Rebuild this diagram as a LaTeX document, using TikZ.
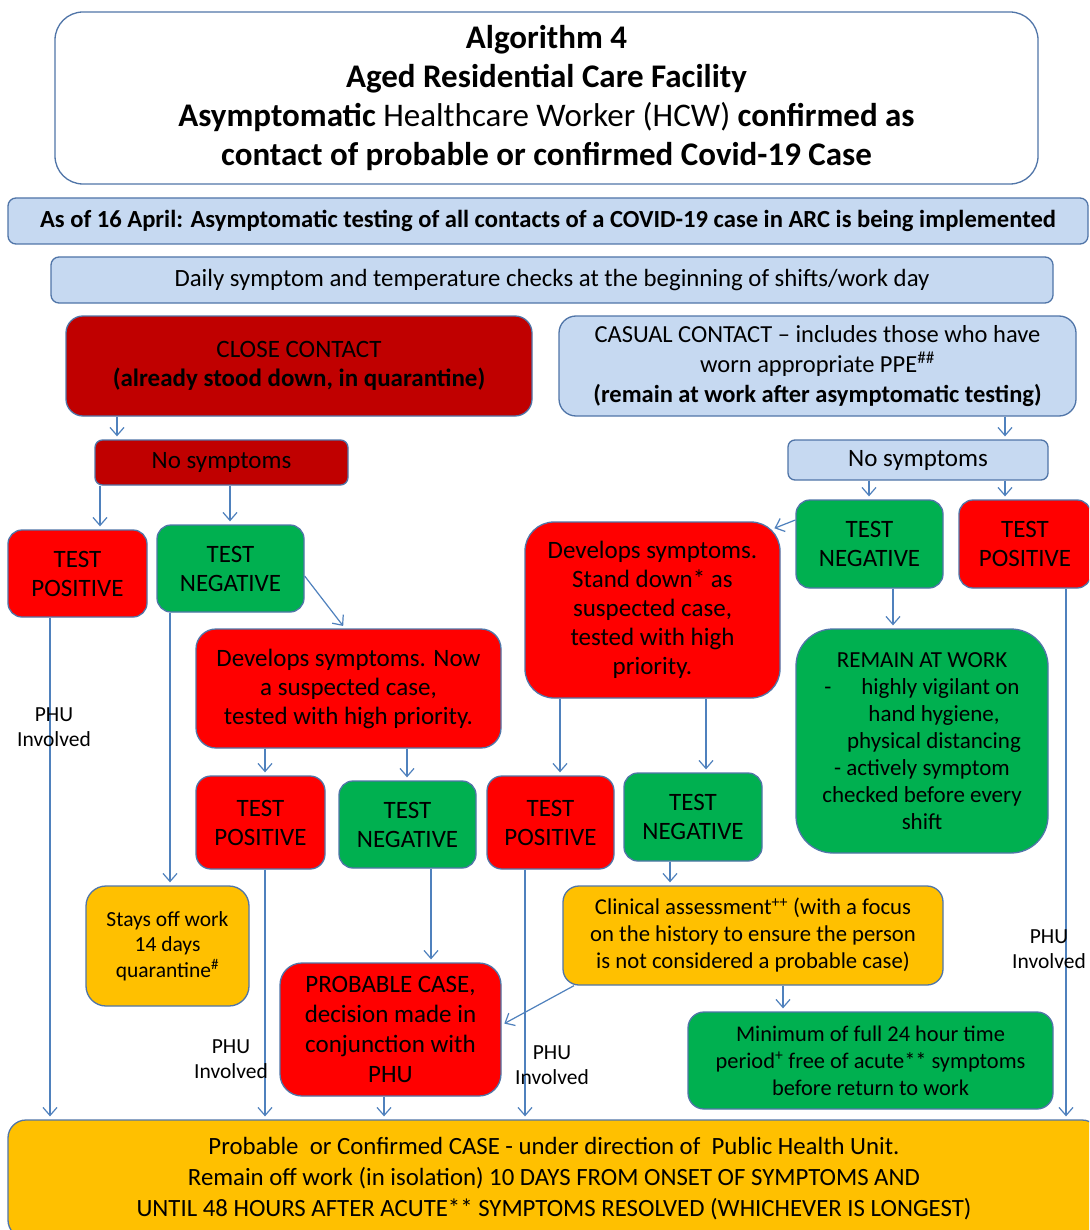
\documentclass[tikz,border=0pt]{standalone}
\usepackage{fontspec}
\setmainfont{Carlito}
\usetikzlibrary{arrows.meta,calc}
\definecolor{dred}{HTML}{C00000}
\definecolor{bred}{HTML}{FF0000}
\definecolor{bgreen}{HTML}{00B050}
\definecolor{amber}{HTML}{FFC000}
\definecolor{lblue}{HTML}{C6D9F1}
\definecolor{edgec}{HTML}{5075A8}
\definecolor{arrowc}{HTML}{4F81BD}
\begin{document}
\begin{tikzpicture}[x=1pt,y=-1pt,
  bx/.style={draw=edgec, line width=1.3pt, align=center, inner sep=2pt, text=black},
  body/.style={font=\fontsize{25}{29}\selectfont},
  arr/.style={draw=arrowc, line width=1.2pt, -{Straight Barb[length=8pt,width=14pt]}, shorten >=3pt},
  lab/.style={align=center, font=\fontsize{21.5}{25}\selectfont, inner sep=0pt}
]
\useasboundingbox (0,0) rectangle (1089,1230);
\clip (0,0) rectangle (1089,1230);
\fill[white] (0,0) rectangle (1089,1230);

% header
\node[bx, fill=white, minimum width=983pt, minimum height=172pt, rounded corners=28pt,
      font=\fontsize{33}{39}\selectfont] (title) at (546.5,98)
  {\textbf{Algorithm 4}\\ \textbf{Aged Residential Care Facility}\\
   \textbf{Asymptomatic} Healthcare Worker (HCW) \textbf{confirmed as}\\
   \textbf{contact of probable or confirmed Covid-19 Case}};
\node[bx, fill=lblue, minimum width=1080pt, minimum height=46pt, rounded corners=8pt,
      font=\bfseries\fontsize{24.6}{27}\selectfont] (asof) at (548,221)
  {As of 16 April: Asymptomatic testing of all contacts of a COVID-19 case in ARC is being implemented};
\node[bx, fill=lblue, minimum width=1002pt, minimum height=46pt, rounded corners=8pt,
      font=\fontsize{24.8}{27}\selectfont] (daily) at (552,280)
  {Daily symptom and temperature checks at the beginning of shifts/work day};

% contacts
\node[bx, body, fill=dred, minimum width=466pt, minimum height=100pt, rounded corners=17pt] (close) at (299,366)
  {CLOSE CONTACT\\ \textbf{(already stood down, in quarantine)}};
\node[bx, fill=lblue, minimum width=517pt, minimum height=100pt, rounded corners=17pt,
      font=\fontsize{24.5}{30}\selectfont] (casual) at (817.5,366)
  {CASUAL CONTACT – includes those who have\\ worn appropriate PPE\textsuperscript{\#\#}\\
   \textbf{(remain at work after asymptomatic testing)}};
\node[bx, body, fill=dred, minimum width=253pt, minimum height=45pt, rounded corners=7.5pt] (nsl) at (221.5,462.5) {No symptoms};
\node[bx, body, fill=lblue, minimum width=260pt, minimum height=40pt, rounded corners=7pt] (nsr) at (918,460) {No symptoms};

% tests
\node[bx, body, fill=bred, minimum width=139pt, minimum height=87pt, rounded corners=14pt] (tp1) at (77.5,573.5) {TEST\\POSITIVE};
\node[bx, body, fill=bgreen, minimum width=147pt, minimum height=87pt, rounded corners=14pt] (tn1) at (230.5,568.5) {TEST\\NEGATIVE};
\node[bx, body, fill=bred, minimum width=305pt, minimum height=119pt, rounded corners=20pt] (devl) at (348.5,688.5)
  {Develops symptoms. Now\\ a suspected case,\\ tested with high priority.};
\node[bx, body, fill=bred, minimum width=129pt, minimum height=93pt, rounded corners=15pt] (tp2) at (260.5,822.5) {TEST\\POSITIVE};
\node[bx, body, fill=bgreen, minimum width=137pt, minimum height=87pt, rounded corners=14pt] (tn2) at (407.5,824.5) {TEST\\NEGATIVE};
\node[bx, body, fill=bred, minimum width=127pt, minimum height=93pt, rounded corners=15pt] (tp3) at (550.5,822.5) {TEST\\POSITIVE};
\node[bx, body, fill=bgreen, minimum width=138pt, minimum height=88pt, rounded corners=14pt] (tn3) at (693,817) {TEST\\NEGATIVE};
\node[bx, body, fill=bred, minimum width=255pt, minimum height=176pt, rounded corners=29pt] (devr) at (652.5,610)
  {Develops symptoms.\\ Stand down* as\\ suspected case,\\ tested with high\\ priority.};
\node[bx, body, fill=bgreen, minimum width=147pt, minimum height=88pt, rounded corners=14pt] (tn4) at (869.5,544) {TEST\\NEGATIVE};
\node[bx, body, fill=bred, minimum width=132pt, minimum height=88pt, rounded corners=14pt] (tp4) at (1025,544) {TEST\\POSITIVE};
\node[bx, fill=bgreen, minimum width=252pt, minimum height=224pt, rounded corners=37pt,
      font=\fontsize{23}{27}\selectfont] (remain) at (922,741)
  {REMAIN AT WORK\\ -\hspace{1.3em}highly vigilant on\\ \hspace{24pt}hand hygiene,\\ \hspace{24pt}physical distancing\\
   - actively symptom\\ checked before every\\ shift};
\node[bx, fill=amber, minimum width=163pt, minimum height=120pt, rounded corners=20pt,
      font=\fontsize{21.5}{25.5}\selectfont] (stays) at (167.5,946)
  {Stays off work\\ 14 days\\ quarantine\textsuperscript{\#}};
\node[bx, fill=bred, minimum width=221pt, minimum height=133pt, rounded corners=22pt,
      font=\fontsize{25}{30}\selectfont] (prob) at (390.5,1029.5)
  {PROBABLE CASE,\\ decision made in\\ conjunction with\\ PHU};
\node[bx, fill=amber, minimum width=380pt, minimum height=99pt, rounded corners=16pt,
      font=\fontsize{22.7}{27}\selectfont] (clin) at (753,935.5)
  {Clinical assessment\textsuperscript{++} (with a focus\\ on the history to ensure the person\\ is not considered a probable case)};
\node[bx, fill=bgreen, minimum width=365pt, minimum height=97pt, rounded corners=16pt,
      font=\fontsize{22.4}{27}\selectfont] (mini) at (870.5,1060.5)
  {Minimum of full 24 hour time\\ period\textsuperscript{+} free of acute** symptoms\\ before return to work};
\node[bx, fill=amber, minimum width=1092pt, minimum height=118pt, rounded corners=18pt,
      font=\fontsize{24.8}{31}\selectfont] (bottom) at (554,1179)
  {Probable\ \ or Confirmed CASE - under direction of\ \ Public Health Unit.\\
   Remain off work (in isolation) 10 DAYS FROM ONSET OF SYMPTOMS AND\\
   UNTIL 48 HOURS AFTER ACUTE** SYMPTOMS RESOLVED (WHICHEVER IS LONGEST)};

% connectors
\draw[arr] (close.south -| 117,0) -- (nsl.north -| 117,0);
\draw[arr] (nsl.south -| 100,0) -- (tp1.north -| 100,0);
\draw[arr] (nsl.south -| 230,0) -- (tn1.north -| 230,0);
\draw[arr] (tn1.east |- 0,576) -- (devl.north -| 345,0);
\draw[arr] (tp1.south -| 50,0) -- (bottom.north -| 50,0);
\draw[arr] (tn1.south -| 170,0) -- (stays.north -| 170,0);
\draw[arr] (devl.south -| 265,0) -- (tp2.north -| 265,0);
\draw[arr] (devl.south -| 407,0) -- (tn2.north -| 407,0);
\draw[arr] (tp2.south -| 265,0) -- (bottom.north -| 265,0);
\draw[arr] (tn2.south -| 431,0) -- (prob.north -| 431,0);
\draw[arr] (prob.south -| 384,0) -- (bottom.north -| 384,0);
\draw[arr] (tp3.south -| 525,0) -- (bottom.north -| 525,0);
\draw[arr] (devr.south -| 560,0) -- (tp3.north -| 560,0);
\draw[arr] (devr.south -| 706,0) -- (tn3.north -| 706,0);
\draw[arr] (tn3.south -| 670,0) -- (clin.north -| 670,0);
\draw[arr] (clin.south -| 574,0) -- (prob.east |- 0,1025);
\draw[arr] (clin.south -| 783,0) -- (mini.north -| 783,0);
\draw[arr] (casual.south -| 1005,0) -- (nsr.north -| 1005,0);
\draw[arr] (nsr.south -| 869,0) -- (tn4.north -| 869,0);
\draw[arr] (nsr.south -| 1005,0) -- (tp4.north -| 1005,0);
\draw[arr] (tn4.west |- 0,520) -- ($(devr.north east)+(-9,8)$);
\draw[arr] (tn4.south -| 893,0) -- (remain.north -| 893,0);
\draw[arr] (tp4.south -| 1066,0) -- (bottom.north -| 1066,0);

% labels
\node[lab] (phu1) at (54,727) {PHU\\Involved};
\node[lab] (phu2) at (231,1059) {PHU\\Involved};
\node[lab] (phu3) at (552,1065) {PHU\\Involved};
\node[lab] (phu4) at (1049,949) {PHU\\Involved};
\end{tikzpicture}
\end{document}
